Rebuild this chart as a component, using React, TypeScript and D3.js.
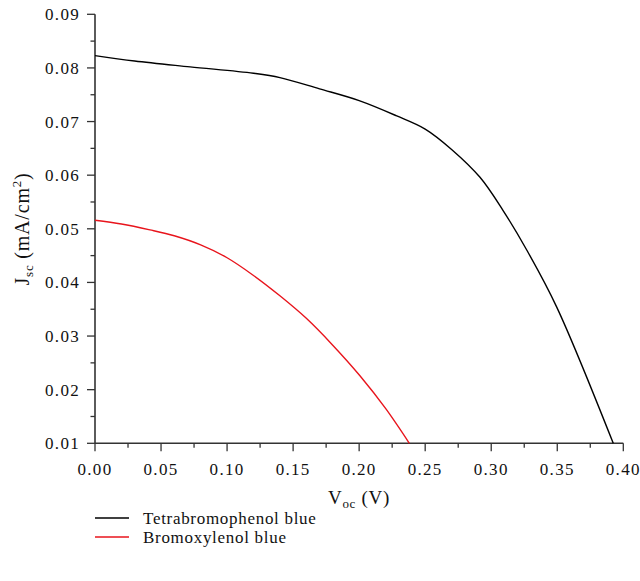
import React from "react";
import * as d3 from "d3";

const xTicks = [0, 0.05, 0.1, 0.15, 0.2, 0.25, 0.3, 0.35, 0.4];
const yTicks = [0.01, 0.02, 0.03, 0.04, 0.05, 0.06, 0.07, 0.08, 0.09];

const tetraV = [0, 0.03, 0.072, 0.12, 0.14, 0.17, 0.2, 0.228, 0.25, 0.27, 0.2915, 0.309, 0.327, 0.3496, 0.3924];
const tetraJ = [0.0823, 0.0813, 0.0802, 0.079, 0.0782, 0.0761, 0.0739, 0.0711, 0.0686, 0.0648, 0.0596, 0.0534, 0.046, 0.0354, 0.01];

const bromoV = [0, 0.02, 0.0416, 0.06, 0.08, 0.1, 0.12, 0.14, 0.16, 0.18, 0.2006, 0.22, 0.238];
const bromoJ = [0.0516, 0.0509, 0.0498, 0.0487, 0.047, 0.0446, 0.0413, 0.0375, 0.0333, 0.0283, 0.0226, 0.0165, 0.01];

const seriesNames = ["Tetrabromophenol blue", "Bromoxylenol blue"];
const seriesColors = ["#000000", "#e8141c"];

const FONT = "'Liberation Serif', 'DejaVu Serif', serif";

export default function App() {
  const x = d3.scaleLinear().domain([0, 0.4]).range([95, 623.3]);
  const y = d3.scaleLinear().domain([0.01, 0.09]).range([443.3, 14.3]);
  const line = d3
    .line<[number, number]>()
    .x((d) => x(d[0]))
    .y((d) => y(d[1]))
    .curve(d3.curveCatmullRom.alpha(0.5));

  const series = [
    tetraV.map((v, i) => [v, tetraJ[i]] as [number, number]),
    bromoV.map((v, i) => [v, bromoJ[i]] as [number, number]),
  ];

  const xMinor = d3.range(0, 8).map((i) => 0.025 + i * 0.05);
  const yMinor = d3.range(0, 8).map((i) => 0.015 + i * 0.01);
  const axisColor = "#333";

  return (
    <svg
      width={640}
      height={581}
      style={{ position: "absolute", left: 0, top: 0, background: "#fff" }}
      fontFamily={FONT}
    >
      {/* axes */}
      <line x1={x(0)} x2={x(0.4)} y1={y(0.01)} y2={y(0.01)} stroke={axisColor} strokeWidth={1.6} />
      <line x1={x(0)} x2={x(0)} y1={y(0.01)} y2={y(0.09)} stroke={axisColor} strokeWidth={1.6} />
      {xTicks.map((t) => (
        <g key={"xt" + t}>
          <line x1={x(t)} x2={x(t)} y1={y(0.01)} y2={y(0.01) + 8} stroke={axisColor} strokeWidth={1.3} />
          <text x={x(t)} y={475} textAnchor="middle" fontSize={17} letterSpacing={1.3} fill="#111">
            {t.toFixed(2)}
          </text>
        </g>
      ))}
      {xMinor.map((t) => (
        <line key={"xm" + t} x1={x(t)} x2={x(t)} y1={y(0.01)} y2={y(0.01) + 4.5} stroke={axisColor} strokeWidth={1.3} />
      ))}
      {yTicks.map((t) => (
        <g key={"yt" + t}>
          <line x1={x(0) - 8} x2={x(0)} y1={y(t)} y2={y(t)} stroke={axisColor} strokeWidth={1.3} />
          <text x={80} y={y(t) + 6} textAnchor="end" fontSize={17} letterSpacing={1.3} fill="#111">
            {t.toFixed(2)}
          </text>
        </g>
      ))}
      {yMinor.map((t) => (
        <line key={"ym" + t} x1={x(0) - 4.5} x2={x(0)} y1={y(t)} y2={y(t)} stroke={axisColor} strokeWidth={1.3} />
      ))}

      {/* series */}
      {series.map((s, i) => (
        <path key={i} d={line(s) || ""} fill="none" stroke={seriesColors[i]} strokeWidth={1.4} />
      ))}

      {/* axis titles */}
      <text x={359} y={504} textAnchor="middle" fontSize={19} letterSpacing={0.7} fill="#111">
        V
        <tspan fontSize={13} dy={4}>oc</tspan>
        <tspan dy={-4}> (V)</tspan>
      </text>
      <text
        transform="translate(29,229) rotate(-90)"
        textAnchor="middle"
        fontSize={20}
        letterSpacing={0.8}
        fill="#111"
      >
        J
        <tspan fontSize={13} dy={4}>sc</tspan>
        <tspan dy={-4}> (mA/cm</tspan>
        <tspan fontSize={13} dy={-8}>2</tspan>
        <tspan dy={8}>)</tspan>
      </text>

      {/* legend */}
      {seriesNames.map((n, i) => (
        <g key={n}>
          <line x1={95} x2={129} y1={518 + i * 19} y2={518 + i * 19} stroke={seriesColors[i]} strokeWidth={1.4} />
          <text x={143} y={524 + i * 19} fontSize={17} letterSpacing={0.7} fill="#111">
            {n}
          </text>
        </g>
      ))}
    </svg>
  );
}
